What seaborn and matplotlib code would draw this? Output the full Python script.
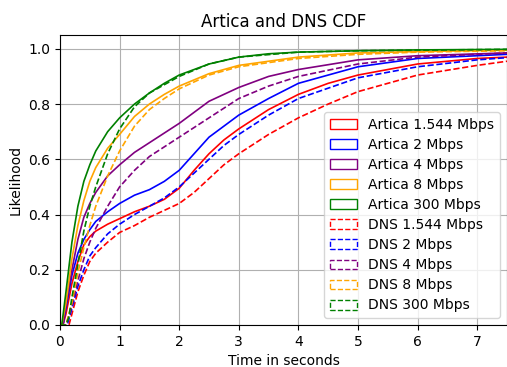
import matplotlib
matplotlib.use("Agg")
import matplotlib.pyplot as plt
from matplotlib.patches import Patch
import pandas as pd
import seaborn as sns

# CDF values (time in seconds -> likelihood)
artica_1544_t = [0, 0.05, 0.1, 0.2, 0.3, 0.4, 0.5, 0.6, 0.8, 1.0, 1.25, 1.5, 1.75, 2.0, 2.25, 2.5, 2.75, 3.0, 3.5, 4.0, 4.5, 5.0, 6.0, 7.0, 7.5]
artica_1544_v = [0, 0.0, 0.04, 0.15, 0.23, 0.29, 0.32, 0.34, 0.365, 0.385, 0.41, 0.43, 0.455, 0.495, 0.56, 0.62, 0.67, 0.71, 0.78, 0.835, 0.875, 0.905, 0.945, 0.965, 0.97]

artica_2_t = [0, 0.05, 0.1, 0.2, 0.3, 0.4, 0.5, 0.6, 0.8, 1.0, 1.25, 1.5, 1.75, 2.0, 2.25, 2.5, 2.75, 3.0, 3.5, 4.0, 5.0, 6.0, 7.5]
artica_2_v = [0, 0.0, 0.06, 0.18, 0.26, 0.31, 0.345, 0.375, 0.41, 0.44, 0.47, 0.49, 0.52, 0.56, 0.62, 0.68, 0.72, 0.76, 0.82, 0.875, 0.935, 0.965, 0.98]

artica_4_t = [0, 0.05, 0.1, 0.2, 0.3, 0.4, 0.5, 0.6, 0.8, 1.0, 1.25, 1.5, 1.75, 2.0, 2.5, 3.0, 3.5, 4.0, 5.0, 6.0, 7.5]
artica_4_v = [0, 0.0, 0.07, 0.2, 0.31, 0.39, 0.44, 0.48, 0.54, 0.58, 0.625, 0.66, 0.695, 0.73, 0.81, 0.86, 0.9, 0.925, 0.96, 0.975, 0.985]

artica_8_t = [0, 0.03, 0.1, 0.2, 0.3, 0.4, 0.5, 0.6, 0.8, 1.0, 1.25, 1.5, 1.75, 2.0, 2.5, 3.0, 4.0, 5.0, 6.0, 7.5]
artica_8_v = [0, 0.0, 0.08, 0.24, 0.36, 0.45, 0.52, 0.57, 0.64, 0.69, 0.755, 0.80, 0.835, 0.865, 0.91, 0.94, 0.97, 0.985, 0.99, 0.995]

artica_300_t = [0, 0.03, 0.1, 0.2, 0.3, 0.4, 0.5, 0.6, 0.8, 1.0, 1.25, 1.5, 1.75, 2.0, 2.5, 3.0, 3.5, 4.0, 5.0, 6.0, 7.5]
artica_300_v = [0, 0.0, 0.12, 0.30, 0.43, 0.52, 0.58, 0.63, 0.70, 0.75, 0.80, 0.84, 0.875, 0.905, 0.945, 0.97, 0.982, 0.988, 0.993, 0.996, 0.998]

dns_1544_t = [0, 0.15, 0.2, 0.3, 0.4, 0.5, 0.6, 0.8, 1.0, 1.25, 1.5, 1.75, 2.0, 2.25, 2.5, 2.75, 3.0, 3.5, 4.0, 4.5, 5.0, 6.0, 7.0, 7.5]
dns_1544_v = [0, 0.0, 0.04, 0.12, 0.18, 0.23, 0.26, 0.30, 0.335, 0.36, 0.39, 0.415, 0.44, 0.48, 0.53, 0.58, 0.62, 0.69, 0.75, 0.80, 0.845, 0.905, 0.94, 0.955]

dns_2_t = [0, 0.12, 0.2, 0.3, 0.4, 0.5, 0.6, 0.8, 1.0, 1.25, 1.5, 1.75, 2.0, 2.25, 2.5, 2.75, 3.0, 3.5, 4.0, 5.0, 6.0, 7.0, 7.5]
dns_2_v = [0, 0.0, 0.06, 0.14, 0.20, 0.25, 0.28, 0.33, 0.365, 0.40, 0.43, 0.46, 0.50, 0.55, 0.60, 0.65, 0.69, 0.76, 0.82, 0.895, 0.935, 0.96, 0.968]

dns_4_t = [0, 0.1, 0.2, 0.3, 0.4, 0.5, 0.6, 0.8, 1.0, 1.25, 1.5, 1.75, 2.0, 2.5, 3.0, 3.5, 4.0, 5.0, 6.0, 7.5]
dns_4_v = [0, 0.0, 0.07, 0.16, 0.24, 0.30, 0.35, 0.43, 0.50, 0.56, 0.61, 0.645, 0.68, 0.75, 0.82, 0.865, 0.90, 0.945, 0.97, 0.985]

dns_8_t = [0, 0.1, 0.2, 0.3, 0.4, 0.5, 0.6, 0.8, 1.0, 1.25, 1.5, 1.75, 2.0, 2.5, 3.0, 4.0, 5.0, 6.0, 7.5]
dns_8_v = [0, 0.0, 0.08, 0.19, 0.28, 0.36, 0.43, 0.54, 0.63, 0.72, 0.78, 0.82, 0.855, 0.905, 0.935, 0.965, 0.98, 0.988, 0.993]

dns_300_t = [0, 0.1, 0.15, 0.2, 0.3, 0.4, 0.5, 0.6, 0.8, 1.0, 1.25, 1.5, 1.75, 2.0, 2.5, 3.0, 4.0, 5.0, 7.5]
dns_300_v = [0, 0.0, 0.03, 0.10, 0.22, 0.34, 0.43, 0.50, 0.62, 0.71, 0.79, 0.84, 0.87, 0.90, 0.945, 0.97, 0.988, 0.993, 0.998]

labels = ["Artica 1.544 Mbps", "Artica 2 Mbps", "Artica 4 Mbps", "Artica 8 Mbps", "Artica 300 Mbps",
          "DNS 1.544 Mbps", "DNS 2 Mbps", "DNS 4 Mbps", "DNS 8 Mbps", "DNS 300 Mbps"]
colors = ["red", "blue", "purple", "orange", "green"] * 2
styles = ["-"] * 5 + ["--"] * 5

series = [
    (artica_1544_t, artica_1544_v), (artica_2_t, artica_2_v), (artica_4_t, artica_4_v),
    (artica_8_t, artica_8_v), (artica_300_t, artica_300_v),
    (dns_1544_t, dns_1544_v), (dns_2_t, dns_2_v), (dns_4_t, dns_4_v),
    (dns_8_t, dns_8_v), (dns_300_t, dns_300_v),
]

fig = plt.figure(figsize=(5.07, 3.67), dpi=100)
ax = fig.add_axes([60 / 507, 42 / 367, 447 / 507, 290 / 367])

for (t, v), lab, c, ls in zip(series, labels, colors, styles):
    df = pd.DataFrame({"t": t, "v": v})
    sns.lineplot(data=df, x="t", y="v", color=c, linestyle=ls, linewidth=1.2, ax=ax)

ax.set_xlim(0, 7.5)
ax.set_ylim(0, 1.05)
ax.grid(True)
ax.set_title("Artica and DNS CDF")
ax.set_xlabel("Time in seconds")
ax.set_ylabel("Likelihood")

handles = [Patch(facecolor="none", edgecolor=c, linestyle=ls, linewidth=1.0)
           for c, ls in zip(colors, styles)]
ax.legend(handles, labels, loc="lower right", labelspacing=0.44)

fig.savefig("out.png", dpi=100)
